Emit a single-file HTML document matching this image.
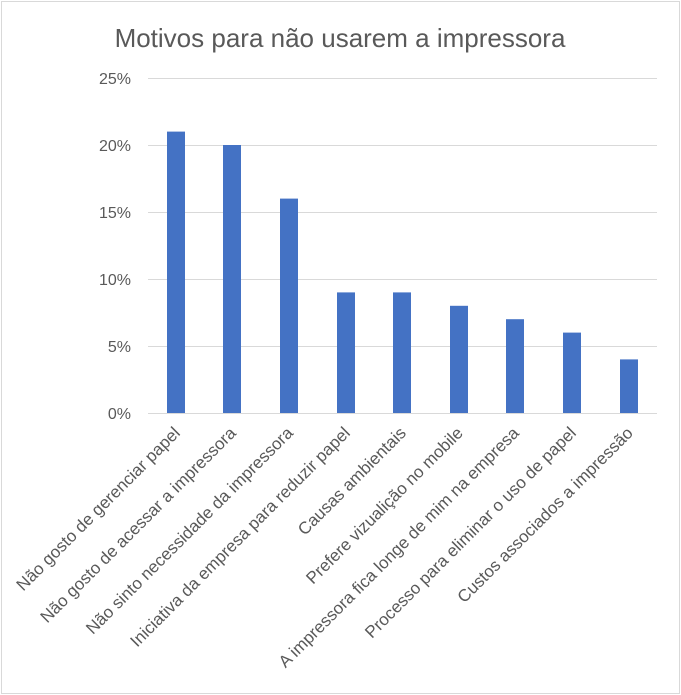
<!DOCTYPE html>
<html><head><meta charset="utf-8"><style>
html,body{margin:0;padding:0;background:#fff}
svg{display:block}
text{font-family:"Liberation Sans","DejaVu Sans",sans-serif;fill:#595959}
</style></head><body>
<svg width="681" height="695" viewBox="0 0 681 695" xmlns="http://www.w3.org/2000/svg">
<rect x="1.5" y="1.5" width="678" height="692" fill="#fff" stroke="#d9d9d9" stroke-width="1"/>
<text x="340" y="47" text-anchor="middle" font-size="26">Motivos para não usarem a impressora</text>
<g stroke="#d9d9d9" stroke-width="1">
<line x1="148" y1="78.5" x2="657" y2="78.5"/>
<line x1="148" y1="145.5" x2="657" y2="145.5"/>
<line x1="148" y1="212.5" x2="657" y2="212.5"/>
<line x1="148" y1="279.5" x2="657" y2="279.5"/>
<line x1="148" y1="346.5" x2="657" y2="346.5"/>
<line x1="148" y1="413.5" x2="657" y2="413.5"/>
</g>
<g font-size="16" text-anchor="end">
<text x="131" y="84">25%</text>
<text x="131" y="151">20%</text>
<text x="131" y="218">15%</text>
<text x="131" y="285">10%</text>
<text x="131" y="352">5%</text>
<text x="131" y="419">0%</text>
</g>
<g fill="#4472c4">
<rect x="167" y="131.6" width="18" height="281.4"/>
<rect x="223" y="145" width="18" height="268"/>
<rect x="280" y="198.6" width="18" height="214.4"/>
<rect x="337" y="292.4" width="18" height="120.6"/>
<rect x="393" y="292.4" width="18" height="120.6"/>
<rect x="450" y="305.8" width="18" height="107.2"/>
<rect x="506" y="319.2" width="18" height="93.8"/>
<rect x="563" y="332.6" width="18" height="80.4"/>
<rect x="620" y="359.4" width="18" height="53.6"/>
</g>
<g font-size="17" text-anchor="end">
<text transform="translate(181,434) rotate(-45)">Não gosto de gerenciar papel</text>
<text transform="translate(237,434) rotate(-45)">Não gosto de acessar a impressora</text>
<text transform="translate(294,434) rotate(-45)">Não sinto necessidade da impressora</text>
<text transform="translate(351,434) rotate(-45)">Iniciativa da empresa para reduzir papel</text>
<text transform="translate(407,434) rotate(-45)">Causas ambientais</text>
<text transform="translate(464,434) rotate(-45)">Prefere vizualição no mobile</text>
<text transform="translate(520,434) rotate(-45)">A impressora fica longe de mim na empresa</text>
<text transform="translate(577,434) rotate(-45)">Processo para eliminar o uso de papel</text>
<text transform="translate(634,434) rotate(-45)">Custos associados a impressão</text>
</g>
</svg>
</body></html>
